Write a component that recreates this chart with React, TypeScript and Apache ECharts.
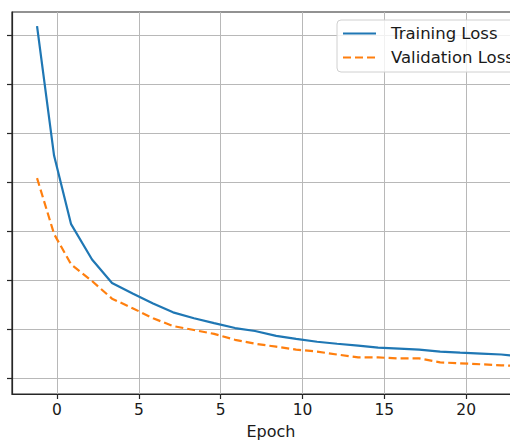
import React, { useEffect, useRef } from "react";
import * as echarts from "echarts";

// Epoch positions of the plotted points (axis units)
const epochs = [
  -1.22, -0.18, 0.86, 2.14, 3.36, 4.65, 5.87, 7.09, 8.37, 9.6, 10.88, 12.1,
  13.39, 14.61, 15.89, 17.11, 18.4, 19.62, 20.9, 22.13, 23.41, 24.63, 25.92,
  27.14, 28.36,
];

const trainingLoss = [
  3.59, 2.27, 1.57, 1.21, 0.97, 0.86, 0.76, 0.67, 0.61, 0.56, 0.51, 0.48, 0.43,
  0.4, 0.37, 0.35, 0.33, 0.31, 0.3, 0.29, 0.27, 0.26, 0.25, 0.24, 0.22,
];

const validationLoss = [
  2.04, 1.47, 1.16, 0.99, 0.81, 0.71, 0.61, 0.53, 0.49, 0.45, 0.39, 0.35, 0.32,
  0.29, 0.27, 0.24, 0.21, 0.21, 0.2, 0.2, 0.16, 0.15, 0.14, 0.13, 0.12,
];

const xTickValues = [0, 5, 10, 15, 20, 25];
const xTickLabels = ["0", "5", "5", "10", "15", "20"];
const yTickValues = [0, 0.5, 1, 1.5, 2, 2.5, 3, 3.5];

const FONT = "DejaVu Sans";

export default function App() {
  const ref = useRef<HTMLDivElement>(null);

  useEffect(() => {
    if (!ref.current) return;
    const chart = echarts.init(ref.current, undefined, { renderer: "svg" });
    chart.setOption({
      animation: false,
      backgroundColor: "#ffffff",
      grid: {
        left: 12,
        width: 518,
        top: 12,
        bottom: 47,
        outerBoundsMode: "none",
        containLabel: false,
        show: true,
        borderColor: "#262626",
        borderWidth: 1.2,
        backgroundColor: "transparent",
      },
      legend: {
        data: ["Training Loss", "Validation Loss"],
        orient: "vertical",
        left: 337,
        top: 20,
        padding: [5, 10, 6, 5],
        itemGap: 7,
        itemWidth: 33,
        itemHeight: 14,
        itemStyle: { opacity: 0 },
        backgroundColor: "rgba(255,255,255,0.8)",
        borderColor: "#d0d0d0",
        borderWidth: 1,
        borderRadius: 4,
        textStyle: {
          fontFamily: FONT,
          fontSize: 16.5,
          color: "#1a1a1a",
          padding: [0, 0, 0, 10],
        },
      },
      xAxis: {
        type: "value",
        min: -2.75,
        max: 28.9,
        name: "Epoch",
        nameLocation: "middle",
        nameGap: 29,
        nameTextStyle: { fontFamily: FONT, fontSize: 16, color: "#1a1a1a" },
        axisLine: {
          show: true,
          onZero: false,
          lineStyle: { color: "#262626", width: 1.2 },
        },
        axisTick: {
          show: true,
          customValues: xTickValues,
          length: 5,
          inside: false,
          lineStyle: { color: "#262626", width: 1.2 },
        },
        axisLabel: {
          customValues: xTickValues,
          margin: 8,
          fontFamily: FONT,
          fontSize: 15.5,
          color: "#1a1a1a",
          formatter: (v: number) => {
            const i = xTickValues.indexOf(v);
            return i >= 0 ? xTickLabels[i] : "";
          },
        },
        splitLine: { show: true, lineStyle: { color: "#b8b8b8", width: 1 } },
      },
      yAxis: {
        type: "value",
        min: -0.163,
        max: 3.735,
        axisLine: {
          show: true,
          onZero: false,
          lineStyle: { color: "#262626", width: 1.2 },
        },
        axisTick: {
          show: true,
          customValues: yTickValues,
          length: 5,
          inside: false,
          lineStyle: { color: "#262626", width: 1.2 },
        },
        axisLabel: { show: false, customValues: yTickValues },
        splitLine: { show: true, lineStyle: { color: "#b8b8b8", width: 1 } },
      },
      series: [
        {
          name: "Training Loss",
          type: "line",
          symbol: "none",
          data: epochs.map((e, i) => [e, trainingLoss[i]]),
          lineStyle: { color: "#1f77b4", width: 2.2 },
          itemStyle: { color: "#1f77b4" },
        },
        {
          name: "Validation Loss",
          type: "line",
          symbol: "none",
          data: epochs.map((e, i) => [e, validationLoss[i]]),
          lineStyle: { color: "#ff7f0e", width: 2.2, type: [8, 4] },
          itemStyle: { color: "#ff7f0e" },
        },
      ],
    });
    return () => chart.dispose();
  }, []);

  return (
    <div
      ref={ref}
      style={{
        position: "fixed",
        left: 0,
        top: 0,
        width: 510,
        height: 441,
        overflow: "hidden",
        background: "#fff",
      }}
    />
  );
}
